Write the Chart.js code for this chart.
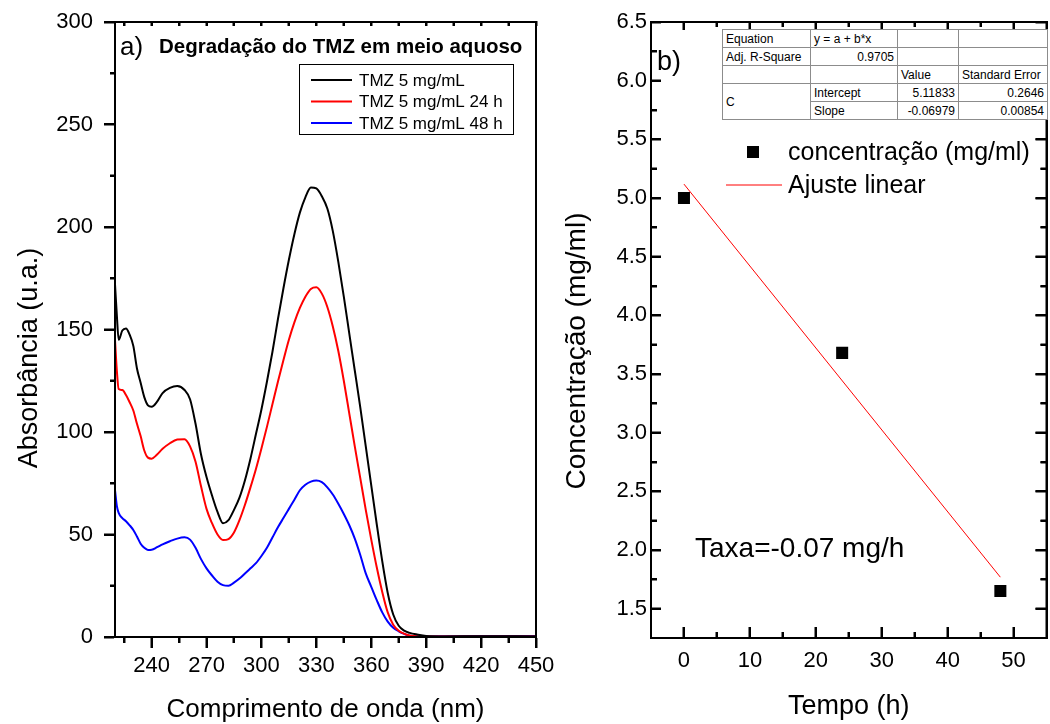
<!DOCTYPE html>
<html>
<head>
<meta charset="utf-8">
<script src="https://cdn.jsdelivr.net/npm/chart.js@4.4.1/dist/chart.umd.min.js"></script>
<style>
  html, body { margin: 0; padding: 0; background: #fff; overflow: hidden; }
  body { width: 1050px; height: 724px; position: relative; }
  #wrapA { position: absolute; left: 0; top: 0; width: 560px; height: 724px; }
  #wrapB { position: absolute; left: 555px; top: 0; width: 500px; height: 724px; }
  #fitTable {
    position: absolute; left: 722px; top: 29px;
    border-collapse: collapse; border: 1px solid #000;
    font: 12px 'Liberation Sans', Arial, sans-serif; color: #000;
    table-layout: fixed; background: #fff;
  }
  #fitTable td {
    border: 1px solid #8c8c8c; padding: 0 3px; height: 17px;
    white-space: nowrap; overflow: hidden; line-height: 14px;
  }
  #fitTable td.num { text-align: right; }
</style>
</head>
<body>
<div id="wrapA"><canvas id="spectra" width="560" height="724"></canvas></div>
<div id="wrapB"><canvas id="kinetics" width="500" height="724"></canvas></div>
<table id="fitTable">
  <colgroup><col style="width:88px"><col style="width:87px"><col style="width:61px"><col style="width:89px"></colgroup>
  <tbody id="fitBody"></tbody>
</table>
<script>
// ---- panel a: UV spectra of TMZ in water ----
const wavelength = [220, 221, 222, 224, 226, 228, 230, 232, 234, 236, 238, 240,
  243, 246, 250, 254, 258, 261, 264, 267, 270, 273, 276, 279,
  282, 285, 288, 291, 294, 297, 300, 303, 306, 309, 312, 315,
  318, 321, 324, 327, 330, 333, 336, 339, 342, 345, 348, 351,
  354, 357, 360, 363, 366, 369, 372, 375, 378, 381, 385, 390,
  400, 420, 450];
const absT0 = [172, 157, 145, 149.5, 150.5, 147.5, 142, 131, 124, 117, 113, 112.3,
  114.8, 119, 121.5, 122.4, 120.5, 116, 104, 89, 78, 69, 61, 55.5,
  57, 62, 68, 76.5, 87, 99, 111, 124.5, 139, 155, 170, 184,
  196.5, 207, 214.5, 219.3, 218.8, 215, 209, 198, 183, 166, 148, 130,
  112, 93, 74, 55, 37, 21.5, 11, 5.5, 3.1, 2, 1.2, 0.5,
  0.3, 0.4, 0.3];
const absT24 = [145, 130, 121, 120.5, 118, 114.5, 110.5, 104, 98, 91, 87.5, 87,
  89, 91.8, 94.5, 96.3, 96.5, 93, 85.5, 73.5, 62.5, 55.5, 50, 47.3,
  47.8, 51, 57, 64.5, 73, 82, 92, 102.5, 113.5, 124.5, 135, 145,
  153.5, 160.5, 166, 169.8, 170.6, 167.5, 161, 151.5, 139.5, 125, 109, 93,
  77.5, 62, 47.5, 34, 22, 12, 6, 3, 1.6, 0.8, 0.4, 0.3,
  0.3, 0.3, 0.3];
const absT48 = [71.7, 64, 60.5, 58, 56.5, 54.5, 52.2, 49, 45.5, 43.5, 42.5, 42.6,
  43.8, 45.2, 46.7, 48, 48.6, 47.5, 43.5, 38, 33.5, 30, 27, 25.3,
  25, 26.5, 28.5, 31, 33.5, 36, 39.5, 43.5, 48.5, 53.5, 58, 62.5,
  67, 71.6, 74.3, 75.8, 76.3, 75.5, 73, 69.5, 65, 60, 54.5, 48,
  40, 31, 24.5, 18, 12, 7.5, 4.5, 2.8, 1.5, 0.6, 0.4, 0.3,
  0.4, 0.5, 0.5];
const spectraNames = ['TMZ 5 mg/mL', 'TMZ 5 mg/mL 24 h', 'TMZ 5 mg/mL 48 h'];
const spectraColors = ['#000000', '#ff0000', '#0000ff'];
const nmTicks = [240, 270, 300, 330, 360, 390, 420, 450];
const absTicks = [0, 50, 100, 150, 200, 250, 300];

// ---- panel b: concentration vs time with linear fit ----
const tempoH = [0, 24, 48];
const concMgMl = [5.0, 3.68, 1.65];
const fitIntercept = 5.11833;
const fitSlope = -0.06979;
const fitErrors = [0.2646, 0.00854];
const fitAdjR2 = 0.9705;
const tempoTicks = [0, 10, 20, 30, 40, 50];
const concTicks = [1.5, 2.0, 2.5, 3.0, 3.5, 4.0, 4.5, 5.0, 5.5, 6.0, 6.5];

const FONT = "'Liberation Sans', Arial, sans-serif";
const BLACK = '#000000';
Chart.defaults.font.family = FONT;
Chart.defaults.color = BLACK;

// half-step ticks between the labelled ones
function halfSteps(major, lo, hi) {
  const step = major[1] - major[0];
  const out = [];
  for (let i = -1; i < major.length; i++) {
    const v = (i < 0 ? major[0] - step : major[i]) + step / 2;
    if (v > lo + 1e-9 && v < hi - 1e-9) out.push(v);
  }
  return out;
}

// tick-mark grid; a negative length turns the marks into the plot
const markGrid = (len) => ({
  display: true, drawOnChartArea: false, drawTicks: len !== 0,
  tickLength: len, tickWidth: 2, tickColor: BLACK, color: BLACK
});

// zero-size axis that only adds tick marks and/or a frame edge
function markAxis(position, min, max, values, len, weight, edge) {
  const horizontal = position === 'top' || position === 'bottom';
  return {
    type: 'linear', position, min, max, weight,
    afterBuildTicks: s => { s.ticks = values.map(v => ({ value: v })); },
    afterFit: s => { if (horizontal) s.height = 0; else s.width = 0; },
    grid: markGrid(len),
    border: { display: edge, color: BLACK, width: 2 },
    ticks: { display: false }
  };
}

// closed box round the plot area with the same tick marks, painted last
function drawBox(chart, sides) {
  const ctx = chart.ctx;
  const ca = chart.chartArea;
  const L = ca.left, R = ca.right, T = ca.top, B = ca.bottom;
  ctx.save();
  ctx.fillStyle = BLACK;
  ctx.fillRect(L - 1, T - 1, 2, B - T + 2);
  ctx.fillRect(R - 1, T - 1, 2, B - T + 2);
  ctx.fillRect(L - 1, T - 1, R - L + 2, 2);
  ctx.fillRect(L - 1, B - 1, R - L + 2, 2);
  sides.forEach(s => {
    const scale = chart.scales[s.axis];
    const vertical = s.edge === 'left' || s.edge === 'right';
    const edgePos = { left: L, right: R, top: T, bottom: B }[s.edge];
    const out = (s.edge === 'left' || s.edge === 'top') ? -1 : 1;
    s.marks.forEach(m => {
      const p = Math.round(scale.getPixelForValue(m[0]));
      const a = edgePos, b = edgePos + out * m[1];
      if (vertical) ctx.fillRect(Math.min(a, b), p - 1, Math.abs(b - a), 2);
      else ctx.fillRect(p - 1, Math.min(a, b), 2, Math.abs(b - a));
    });
  });
  ctx.restore();
}

function drawNotes(chart, items) {
  const ctx = chart.ctx;
  items.forEach(t => {
    ctx.save();
    ctx.fillStyle = BLACK;
    ctx.font = t.font;
    ctx.textAlign = t.align || 'left';
    ctx.textBaseline = t.baseline || 'alphabetic';
    ctx.translate(t.x, t.y);
    if (t.rotate) ctx.rotate(t.rotate * Math.PI / 180);
    ctx.fillText(t.text, 0, 0);
    ctx.restore();
  });
}

function drawLegend(chart, o) {
  const ctx = chart.ctx;
  ctx.save();
  if (o.frame) {
    ctx.strokeStyle = BLACK;
    ctx.lineWidth = 1;
    ctx.strokeRect(o.frame[0] + 0.5, o.frame[1] + 0.5, o.frame[2], o.frame[3]);
  }
  ctx.font = o.font;
  ctx.textBaseline = 'middle';
  ctx.textAlign = 'left';
  chart.data.datasets.forEach((ds, row) => {
    const y = o.y0 + row * o.rowGap;
    if (ds.showLine === false) {
      const s = o.markerSize;
      ctx.fillStyle = ds.backgroundColor;
      ctx.fillRect(o.symX - s / 2, y - s / 2, s, s);
    } else {
      ctx.strokeStyle = ds.borderColor;
      ctx.lineWidth = ds.borderWidth;
      ctx.beginPath();
      ctx.moveTo(o.lineX0, y);
      ctx.lineTo(o.lineX1, y);
      ctx.stroke();
    }
    ctx.fillStyle = BLACK;
    ctx.fillText(ds.label, o.textX, y + 1);
  });
  ctx.restore();
}

// box, legend and free text on top of the plot
function decor(sides, items, legendCfg) {
  return {
    id: 'decor',
    afterDraw(chart) {
      drawBox(chart, sides);
      drawLegend(chart, legendCfg);
      drawNotes(chart, items);
    }
  };
}

// [value, length] pairs; negative length points into the plot
const marks = (major, minor, majorLen, minorLen) =>
  major.map(v => [v, majorLen]).concat(minor.map(v => [v, minorLen]));

const nmMinor = halfSteps(nmTicks, 220, 450);
const absMinor = halfSteps(absTicks, 0, 300);
const tempoMinor = halfSteps(tempoTicks, -5, 55);
const concMinor = halfSteps(concTicks, 1.25, 6.5);

new Chart(document.getElementById('spectra'), {
  type: 'line',
  data: {
    datasets: [absT0, absT24, absT48].map((vals, i) => ({
      label: spectraNames[i],
      data: wavelength.map((w, j) => ({ x: w, y: vals[j] })),
      borderColor: spectraColors[i],
      backgroundColor: spectraColors[i],
      borderWidth: 2,
      pointRadius: 0,
      cubicInterpolationMode: 'monotone',
      fill: false
    }))
  },
  options: {
    responsive: false,
    animation: false,
    events: [],
    layout: { padding: { left: 0, top: 22, right: 24, bottom: 0 } },
    scales: {
      x: {
        type: 'linear', position: 'bottom', weight: 1, min: 220, max: 450,
        afterBuildTicks: s => { s.ticks = nmTicks.map(v => ({ value: v })); },
        afterFit: s => { s.height = 87; },
        grid: markGrid(11),
        border: { display: true, color: BLACK, width: 2 },
        ticks: { padding: 5, font: { size: 22 }, color: BLACK, maxRotation: 0 },
        title: { display: true, text: 'Comprimento de onda (nm)', font: { size: 26, lineHeight: 1 }, padding: { top: 0, bottom: 1 }, color: BLACK }
      },
      xMinor: markAxis('bottom', 220, 450, nmMinor, 6, 0, false),
      xTop: markAxis('top', 220, 450, nmTicks.concat(nmMinor), -4, 0, true),
      y: {
        type: 'linear', position: 'left', weight: 1, min: 0, max: 300,
        afterBuildTicks: s => { s.ticks = absTicks.map(v => ({ value: v })); },
        afterFit: s => { s.width = 115; },
        grid: markGrid(11),
        border: { display: true, color: BLACK, width: 2 },
        ticks: { padding: 11, font: { size: 22, lineHeight: 0.5 }, color: BLACK }
      },
      yMinor: markAxis('left', 0, 300, absMinor, 5, 0, false),
      yRight: markAxis('right', 0, 300, absTicks, 0, 0, true)
    },
    plugins: { legend: { display: false }, tooltip: { enabled: false } }
  },
  plugins: [
    decor(
      [
        { axis: 'x', edge: 'bottom', marks: marks(nmTicks, nmMinor, 11, 6) },
        { axis: 'x', edge: 'top', marks: marks(nmTicks, nmMinor, -4, -4) },
        { axis: 'y', edge: 'left', marks: marks(absTicks, absMinor, 11, 5) }
      ],
      [
        { text: 'a)', x: 120, y: 55, font: '26px ' + FONT },
        { text: 'Degradação do TMZ em meio aquoso', x: 159, y: 53, font: 'bold 20.5px ' + FONT },
        { text: 'Absorbância (u.a.)', x: 30, y: 358, rotate: -90, align: 'center', baseline: 'middle', font: '27px ' + FONT }
      ],
      {
        frame: [299, 64, 214, 70],
        y0: 80, rowGap: 21.5,
        lineX0: 311, lineX1: 352, textX: 359,
        font: '17px ' + FONT
      }
    )
  ]
});

new Chart(document.getElementById('kinetics'), {
  type: 'line',
  data: {
    datasets: [
      {
        label: 'concentração (mg/ml)',
        data: tempoH.map((t, i) => ({ x: t, y: concMgMl[i] })),
        showLine: false,
        pointStyle: 'rect',
        pointRadius: 8.5,
        pointBorderWidth: 0,
        backgroundColor: BLACK,
        borderColor: BLACK
      },
      {
        label: 'Ajuste linear',
        data: [tempoH[0], tempoH[tempoH.length - 1]].map(t => ({ x: t, y: fitIntercept + fitSlope * t })),
        borderColor: '#ff0000',
        backgroundColor: '#ff0000',
        borderWidth: 1,
        pointRadius: 0,
        tension: 0
      }
    ]
  },
  options: {
    responsive: false,
    animation: false,
    events: [],
    layout: { padding: { left: 0, top: 22, right: 1, bottom: 0 } },
    scales: {
      x: {
        type: 'linear', position: 'bottom', weight: 1, min: -5, max: 55,
        afterBuildTicks: s => { s.ticks = tempoTicks.map(v => ({ value: v })); },
        afterFit: s => { s.height = 86; },
        grid: markGrid(-11),
        border: { display: true, color: BLACK, width: 2 },
        ticks: { padding: 21, font: { size: 22 }, color: BLACK, maxRotation: 0 },
        title: { display: true, text: 'Tempo (h)', font: { size: 27, lineHeight: 1 }, padding: { top: 0, bottom: 4 }, color: BLACK }
      },
      xMinor: markAxis('bottom', -5, 55, tempoMinor, -6, 0, false),
      xTop: markAxis('top', -5, 55, tempoTicks, -8, 0, true),
      xTopMinor: markAxis('top', -5, 55, tempoMinor, -5, 1, false),
      y: {
        type: 'linear', position: 'left', weight: 1, min: 1.25, max: 6.5,
        afterBuildTicks: s => { s.ticks = concTicks.map(v => ({ value: v })); },
        afterFit: s => { s.width = 96; },
        grid: markGrid(-10),
        border: { display: true, color: BLACK, width: 2 },
        ticks: { padding: 14, font: { size: 22, lineHeight: 0.5 }, color: BLACK, callback: v => v.toFixed(1) }
      },
      yMinor: markAxis('left', 1.25, 6.5, concMinor, -6, 0, false),
      yRight: markAxis('right', 1.25, 6.5, concTicks, -11, 0, true),
      yRightMinor: markAxis('right', 1.25, 6.5, concMinor, -6, 1, false)
    },
    plugins: { legend: { display: false }, tooltip: { enabled: false } }
  },
  plugins: [
    decor(
      [
        { axis: 'x', edge: 'bottom', marks: marks(tempoTicks, tempoMinor, -11, -6) },
        { axis: 'x', edge: 'top', marks: marks(tempoTicks, tempoMinor, -8, -5) },
        { axis: 'y', edge: 'left', marks: marks(concTicks, concMinor, -10, -6) },
        { axis: 'y', edge: 'right', marks: marks(concTicks, concMinor, -11, -6) }
      ],
      [
        { text: 'b)', x: 102, y: 70, font: '27px ' + FONT },
        { text: 'Taxa=' + fitSlope.toFixed(2) + ' mg/h', x: 140, y: 557, font: '28px ' + FONT },
        { text: 'Concentração (mg/ml)', x: 22, y: 351, rotate: -90, align: 'center', baseline: 'middle', font: '28px ' + FONT }
      ],
      {
        y0: 152, rowGap: 33,
        markerSize: 12, symX: 198,
        lineX0: 171, lineX1: 227, textX: 233,
        font: '25px ' + FONT
      }
    )
  ]
});

// fit statistics table
const fitRows = [
  [['Equation'], ['y = a + b*x'], [''], ['']],
  [['Adj. R-Square'], [String(fitAdjR2), 'num'], [''], ['']],
  [[''], [''], ['Value'], ['Standard Error']],
  [['C', '', 2], ['Intercept'], [String(fitIntercept), 'num'], [String(fitErrors[0]), 'num']],
  [['Slope'], [String(fitSlope), 'num'], [String(fitErrors[1]), 'num']]
];
const tableBody = document.getElementById('fitBody');
fitRows.forEach(r => {
  const tr = document.createElement('tr');
  r.forEach(c => {
    const td = document.createElement('td');
    td.textContent = c[0];
    if (c[1]) td.className = c[1];
    if (c[2]) td.rowSpan = c[2];
    tr.appendChild(td);
  });
  tableBody.appendChild(tr);
});
</script>
</body>
</html>
